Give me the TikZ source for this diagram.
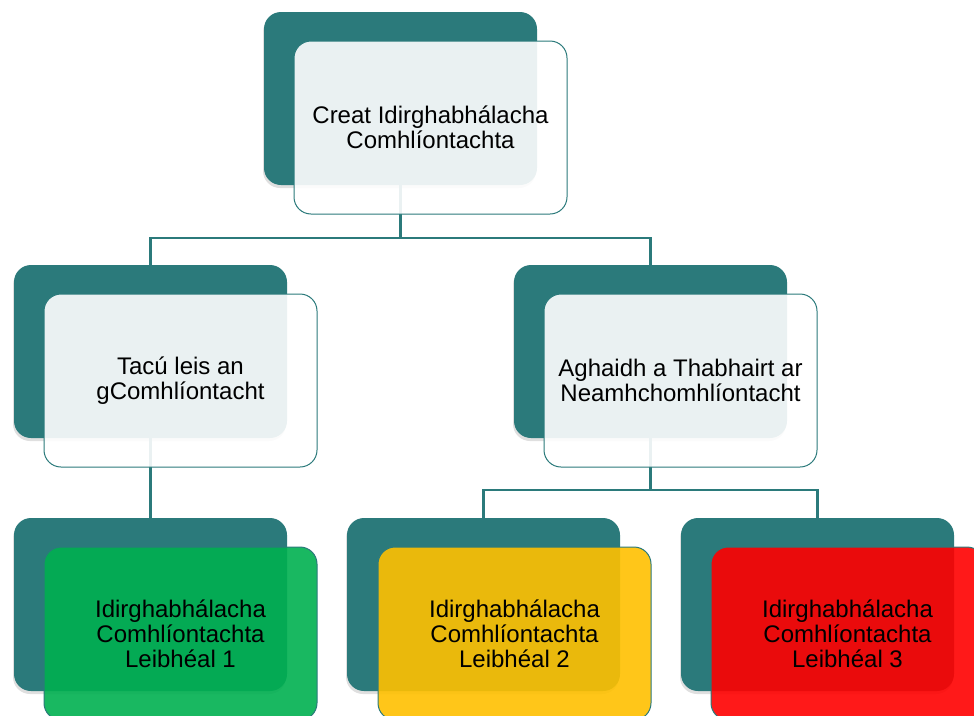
\documentclass[tikz,border=0pt]{standalone}
\usepackage{fontspec}
\setmainfont{Liberation Sans}
\usetikzlibrary{shadows}
\definecolor{tealdark}{RGB}{43, 122, 123}
\definecolor{levelgreen}{RGB}{0, 176, 80}
\definecolor{levelamber}{RGB}{255, 192, 0}
\definecolor{levelred}{RGB}{255, 0, 0}

\tikzset{
    backbox/.style={rounded corners=17pt, minimum width=273pt, minimum height=173pt,
        fill=tealdark, drop shadow={opacity=0.25, shadow xshift=-1pt, shadow yshift=-3pt}},
    frontbox/.style={rounded corners=17pt, minimum width=273pt, minimum height=173pt,
        draw=tealdark, line width=1pt, fill opacity=0.9, text opacity=1,
        align=center, font=\fontsize{24}{25}\selectfont},
    link/.style={draw=tealdark, line width=2.5pt}
}

\begin{document}
\begin{tikzpicture}[x=1pt, y=-1pt]
            \useasboundingbox                                  (0, 0) rectangle (974, 715);
            % Back boxes
            \node[backbox] (creatBack)   at (400.5,  98.5) {};
            \node[backbox] (tacaBack)    at (150.5, 351.5) {};
            \node[backbox] (aghaidhBack) at (650.5, 351.5) {};
            \node[backbox] (leib1Back)   at (150.5, 604.5) {};
            \node[backbox] (leib2Back)   at (483.5, 604.5) {};
            \node[backbox] (leib3Back)   at (817.5, 604.5) {};
            % Connectors
            \coordinate (busTop) at (400, 238);
            \coordinate (busLow) at (650, 490);
            \draw[link] (creatBack.south) -- (creatBack.south |- busTop) -| (tacaBack.north);
            \draw[link] (creatBack.south |- busTop) -| (aghaidhBack.north);
            \draw[link] (tacaBack.south) -- (leib1Back.north);
            \draw[link] (aghaidhBack.south) -- (aghaidhBack.south |- busLow) -| (leib2Back.north);
            \draw[link] (aghaidhBack.south |- busLow) -| (leib3Back.north);
            % Front boxes
            \node[frontbox, fill=white]      (creat)   at (430.5, 127.5) {Creat Idirghabhálacha\\Comhlíontachta};
            \node[frontbox, fill=white]      (taca)    at (180.5, 380.5) {Tacú leis an\\gComhlíontacht};
            \node[frontbox, fill=white]      (aghaidh) at (680.5, 380.5) {Aghaidh a Thabhairt ar\\Neamhchomhlíontacht};
            \node[frontbox, fill=levelgreen] (leib1)   at (180.5, 633.5) {Idirghabhálacha\\Comhlíontachta\\Leibhéal 1};
            \node[frontbox, fill=levelamber] (leib2)   at (514.5, 633.5) {Idirghabhálacha\\Comhlíontachta\\Leibhéal 2};
            \node[frontbox, fill=levelred]   (leib3)   at (847.5, 633.5) {Idirghabhálacha\\Comhlíontachta\\Leibhéal 3};
\end{tikzpicture}
\end{document}
